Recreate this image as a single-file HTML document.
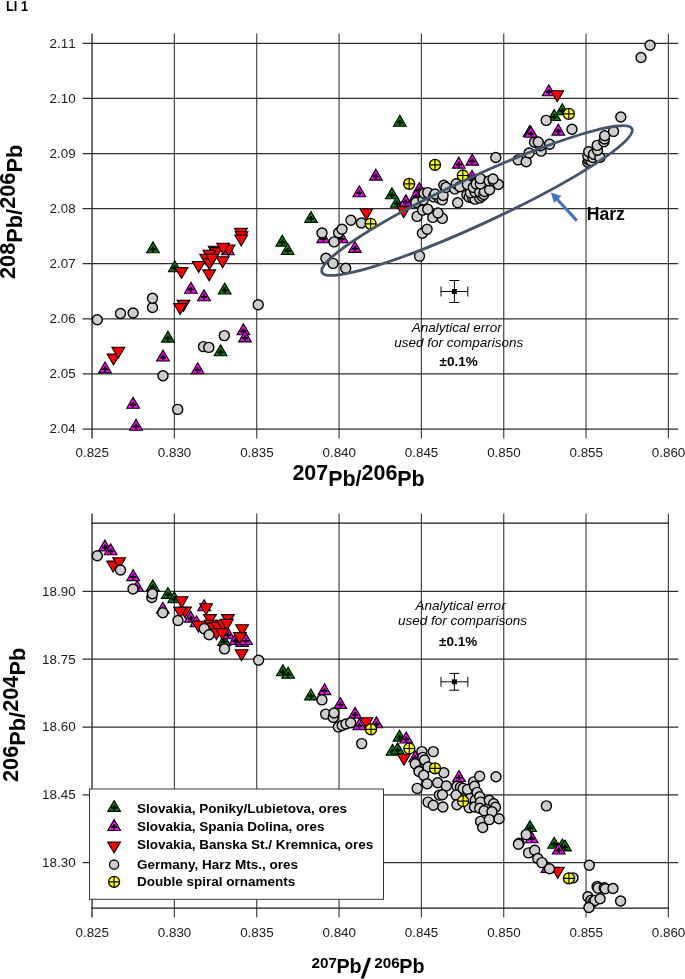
<!DOCTYPE html>
<html><head><meta charset="utf-8"><title>LI 1</title><style>
html,body{margin:0;padding:0;background:#fff}
body{width:685px;height:979px;position:relative;overflow:hidden;font-family:"Liberation Sans",sans-serif;color:#000}
div{position:absolute;white-space:nowrap}
#t{left:0;top:0;width:685px;height:979px;will-change:transform}
.tk{color:#1a1a1a;font-kerning:none}
.b{font-weight:bold}
.i{font-style:italic}
.xt1{font-weight:bold;line-height:30px;height:30px}
.u{position:relative;top:-4px}
.d{position:relative;top:2.6px}
.yt{font-weight:bold;line-height:30px;height:30px;transform-origin:0 0;transform:rotate(-90deg)}
</style></head><body>
<svg width="685" height="979" viewBox="0 0 685 979" style="position:absolute;left:0;top:0">
<defs>
<g id="g"><polygon points="0,-6.2 6.4,4.7 -6.4,4.7" fill="#008a00" stroke="#000" stroke-width="1.1"/><path d="M-2.9,1.1H2.9M0,-1.7V3.8" stroke="#000" stroke-width="2" fill="none"/></g>
<g id="m"><polygon points="0,-6.2 6.4,4.7 -6.4,4.7" fill="#ff00ff" stroke="#000" stroke-width="1.1"/><path d="M-2.9,1.1H2.9M0,-1.7V3.8" stroke="#000" stroke-width="2" fill="none"/></g>
<g id="r"><polygon points="-6.4,-4.7 6.4,-4.7 0,6.2" fill="#ff0000" stroke="#000" stroke-width="1.1"/></g>
<g id="c"><circle r="5" fill="#cecece" stroke="#000" stroke-width="1.4"/></g>
<g id="y"><circle r="5.5" fill="#ffff00" stroke="#000" stroke-width="1.3"/><path d="M-5.5,0H5.5M0,-5.5V5.5" stroke="#000" stroke-width="1.2" fill="none"/></g>
</defs>
<path d="M174.38,33.6V438.4M256.72,33.6V438.4M339.06,33.6V438.4M421.39,33.6V438.4M503.72,33.6V438.4M586.06,33.6V438.4M668.39,33.6V438.4" stroke="#474747" stroke-width="1.2" fill="none"/>
<path d="M92.05,33.6V438.4" stroke="#474747" stroke-width="1.55" fill="none"/>
<path d="M82.6,43.30H678.3M82.6,98.40H678.3M82.6,153.50H678.3M82.6,208.60H678.3M82.6,263.70H678.3M82.6,318.80H678.3M82.6,373.90H678.3M82.6,429.00H678.3" stroke="#2e2e2e" stroke-width="1.25" fill="none"/>
<path d="M174.38,513.5V917.4M256.72,513.5V917.4M339.06,513.5V917.4M421.39,513.5V917.4M503.72,513.5V917.4M586.06,513.5V917.4M668.39,513.5V917.4" stroke="#474747" stroke-width="1.2" fill="none"/>
<path d="M92.05,513.5V917.4" stroke="#474747" stroke-width="1.55" fill="none"/>
<path d="M82.6,591.40H678.3M82.6,659.20H678.3M82.6,727.00H678.3M82.6,794.80H678.3M82.6,862.60H678.3" stroke="#2e2e2e" stroke-width="1.25" fill="none"/>
<path d="M91.45,523.1H669.09M91.45,908.1H669.09" stroke="#161616" stroke-width="1.45" fill="none"/>
<g id="p1"><use href="#g" x="153.0" y="248.1"/>
<use href="#g" x="174.8" y="267.0"/>
<use href="#g" x="224.7" y="289.3"/>
<use href="#g" x="168.0" y="337.4"/>
<use href="#g" x="220.6" y="351.1"/>
<use href="#g" x="399.8" y="121.5"/>
<use href="#g" x="311.0" y="217.7"/>
<use href="#g" x="282.3" y="241.4"/>
<use href="#g" x="287.6" y="249.8"/>
<use href="#g" x="391.9" y="194.1"/>
<use href="#g" x="396.9" y="202.5"/>
<use href="#g" x="562.3" y="109.9"/>
<use href="#g" x="554.2" y="115.8"/>
<use href="#g" x="529.7" y="131.8"/>
<use href="#m" x="190.9" y="288.5"/>
<use href="#m" x="204.0" y="296.0"/>
<use href="#m" x="243.4" y="330.1"/>
<use href="#m" x="245.0" y="337.2"/>
<use href="#m" x="105.0" y="368.2"/>
<use href="#m" x="163.0" y="356.3"/>
<use href="#m" x="197.7" y="369.0"/>
<use href="#m" x="133.1" y="403.6"/>
<use href="#m" x="136.0" y="425.5"/>
<use href="#m" x="227.8" y="250.1"/>
<use href="#m" x="375.9" y="175.4"/>
<use href="#m" x="359.3" y="192.0"/>
<use href="#m" x="406.1" y="201.2"/>
<use href="#m" x="419.3" y="188.8"/>
<use href="#m" x="415.9" y="195.7"/>
<use href="#m" x="323.3" y="238.0"/>
<use href="#m" x="341.7" y="238.0"/>
<use href="#m" x="354.9" y="247.7"/>
<use href="#m" x="405.8" y="201.3"/>
<use href="#m" x="458.8" y="163.4"/>
<use href="#m" x="472.3" y="160.4"/>
<use href="#m" x="472.0" y="176.5"/>
<use href="#m" x="548.8" y="91.0"/>
<use href="#m" x="558.3" y="130.4"/>
<use href="#m" x="530.9" y="132.6"/>
<use href="#r" x="113.5" y="358.8"/>
<use href="#r" x="118.3" y="352.0"/>
<use href="#r" x="181.5" y="272.3"/>
<use href="#r" x="183.5" y="305.1"/>
<use href="#r" x="180.1" y="308.3"/>
<use href="#r" x="198.7" y="266.2"/>
<use href="#r" x="209.2" y="274.6"/>
<use href="#r" x="240.9" y="232.9"/>
<use href="#r" x="241.6" y="236.5"/>
<use href="#r" x="241.2" y="239.8"/>
<use href="#r" x="228.5" y="249.7"/>
<use href="#r" x="214.7" y="251.0"/>
<use href="#r" x="216.0" y="252.3"/>
<use href="#r" x="223.2" y="248.0"/>
<use href="#r" x="209.4" y="254.9"/>
<use href="#r" x="206.1" y="258.9"/>
<use href="#r" x="209.4" y="263.5"/>
<use href="#r" x="212.0" y="258.9"/>
<use href="#r" x="222.6" y="261.5"/>
<use href="#r" x="366.4" y="213.5"/>
<use href="#r" x="403.7" y="211.5"/>
<use href="#r" x="557.2" y="95.5"/>
<use href="#c" x="177.7" y="409.4"/>
<use href="#c" x="97.3" y="319.8"/>
<use href="#c" x="163.0" y="375.8"/>
<use href="#c" x="120.5" y="313.5"/>
<use href="#c" x="133.1" y="313.0"/>
<use href="#c" x="152.5" y="307.5"/>
<use href="#c" x="152.5" y="298.3"/>
<use href="#c" x="203.5" y="346.6"/>
<use href="#c" x="208.8" y="347.4"/>
<use href="#c" x="224.3" y="335.6"/>
<use href="#c" x="258.2" y="304.8"/>
<use href="#c" x="325.9" y="258.2"/>
<use href="#c" x="333.0" y="263.4"/>
<use href="#c" x="345.7" y="268.2"/>
<use href="#c" x="322.0" y="233.0"/>
<use href="#c" x="334.1" y="241.9"/>
<use href="#c" x="338.6" y="232.7"/>
<use href="#c" x="342.0" y="229.3"/>
<use href="#c" x="350.9" y="220.3"/>
<use href="#c" x="361.4" y="223.0"/>
<use href="#c" x="419.5" y="256.1"/>
<use href="#c" x="422.4" y="233.2"/>
<use href="#c" x="427.1" y="229.3"/>
<use href="#c" x="417.1" y="216.4"/>
<use href="#c" x="422.6" y="210.1"/>
<use href="#c" x="415.8" y="202.5"/>
<use href="#c" x="432.8" y="217.4"/>
<use href="#c" x="427.7" y="209.3"/>
<use href="#c" x="423.2" y="199.9"/>
<use href="#c" x="442.3" y="218.4"/>
<use href="#c" x="438.0" y="213.0"/>
<use href="#c" x="424.1" y="193.3"/>
<use href="#c" x="427.7" y="192.6"/>
<use href="#c" x="433.6" y="196.9"/>
<use href="#c" x="439.4" y="198.4"/>
<use href="#c" x="435.0" y="194.0"/>
<use href="#c" x="442.3" y="199.9"/>
<use href="#c" x="443.1" y="195.5"/>
<use href="#c" x="457.7" y="202.8"/>
<use href="#c" x="443.8" y="185.3"/>
<use href="#c" x="446.0" y="187.4"/>
<use href="#c" x="454.7" y="188.9"/>
<use href="#c" x="466.9" y="195.0"/>
<use href="#c" x="469.2" y="197.3"/>
<use href="#c" x="456.2" y="183.8"/>
<use href="#c" x="459.9" y="186.7"/>
<use href="#c" x="472.7" y="197.9"/>
<use href="#c" x="475.0" y="199.1"/>
<use href="#c" x="470.4" y="192.6"/>
<use href="#c" x="479.7" y="197.9"/>
<use href="#c" x="467.4" y="184.5"/>
<use href="#c" x="475.0" y="192.0"/>
<use href="#c" x="473.3" y="187.4"/>
<use href="#c" x="482.0" y="196.1"/>
<use href="#c" x="479.7" y="192.0"/>
<use href="#c" x="483.8" y="194.4"/>
<use href="#c" x="476.2" y="183.9"/>
<use href="#c" x="484.4" y="191.5"/>
<use href="#c" x="480.3" y="183.9"/>
<use href="#c" x="489.6" y="189.7"/>
<use href="#c" x="480.3" y="178.6"/>
<use href="#c" x="489.1" y="180.9"/>
<use href="#c" x="493.7" y="181.2"/>
<use href="#c" x="498.4" y="184.5"/>
<use href="#c" x="493.0" y="179.0"/>
<use href="#c" x="495.8" y="157.5"/>
<use href="#c" x="518.2" y="159.9"/>
<use href="#c" x="526.2" y="161.8"/>
<use href="#c" x="529.1" y="153.0"/>
<use href="#c" x="541.1" y="151.1"/>
<use href="#c" x="534.5" y="142.3"/>
<use href="#c" x="540.4" y="145.7"/>
<use href="#c" x="538.2" y="142.0"/>
<use href="#c" x="549.6" y="144.2"/>
<use href="#c" x="587.8" y="162.3"/>
<use href="#c" x="546.2" y="120.4"/>
<use href="#c" x="588.7" y="159.9"/>
<use href="#c" x="591.0" y="160.7"/>
<use href="#c" x="587.8" y="155.8"/>
<use href="#c" x="592.7" y="157.4"/>
<use href="#c" x="588.7" y="151.8"/>
<use href="#c" x="593.5" y="154.2"/>
<use href="#c" x="599.9" y="157.4"/>
<use href="#c" x="572.0" y="129.3"/>
<use href="#c" x="597.5" y="150.2"/>
<use href="#c" x="597.2" y="145.4"/>
<use href="#c" x="603.9" y="141.7"/>
<use href="#c" x="604.4" y="139.0"/>
<use href="#c" x="604.7" y="135.8"/>
<use href="#c" x="613.5" y="131.4"/>
<use href="#c" x="620.8" y="117.0"/>
<use href="#c" x="641.0" y="57.5"/>
<use href="#c" x="650.0" y="45.2"/>
<use href="#y" x="370.6" y="223.8"/>
<use href="#y" x="409.2" y="183.9"/>
<use href="#y" x="435.0" y="164.9"/>
<use href="#y" x="462.8" y="175.5"/>
<use href="#y" x="568.8" y="113.9"/></g>
<ellipse cx="477" cy="200.55" rx="170.8" ry="23.5" transform="rotate(-24.84 477 200.55)" fill="none" stroke="#44546a" stroke-width="2.8"/>
<path d="M576.8,220.6L556.5,198.5" stroke="#4472c4" stroke-width="3.2" fill="none"/><polygon points="550.9,192.4 561.5,196.0 554.0,203.0" fill="#4472c4"/>
<path d="M441.0,291.5H467.79999999999995M454.4,280.5V302.5M449.4,280.5H459.4M449.4,302.5H459.4M441.0,286.5V296.5M467.79999999999995,286.5V296.5" stroke="#000" stroke-width="1" fill="none"/><rect x="451.9" y="289.0" width="5" height="5" fill="#000"/>
<path d="M441.0,681.8H467.79999999999995M454.4,673.4V690.1999999999999M449.4,673.4H459.4M449.4,690.1999999999999H459.4M441.0,676.8V686.8M467.79999999999995,676.8V686.8" stroke="#000" stroke-width="1" fill="none"/><rect x="451.9" y="679.3" width="5" height="5" fill="#000"/>
<g id="p2"><use href="#g" x="152.8" y="586.1"/>
<use href="#g" x="167.9" y="593.7"/>
<use href="#g" x="174.2" y="598.1"/>
<use href="#g" x="224.1" y="640.7"/>
<use href="#g" x="282.9" y="671.1"/>
<use href="#g" x="288.1" y="673.6"/>
<use href="#g" x="310.9" y="695.2"/>
<use href="#g" x="399.5" y="736.4"/>
<use href="#g" x="392.5" y="750.6"/>
<use href="#g" x="397.6" y="749.1"/>
<use href="#g" x="530.0" y="826.8"/>
<use href="#g" x="554.2" y="843.5"/>
<use href="#g" x="562.3" y="845.2"/>
<use href="#g" x="565.0" y="846.2"/>
<use href="#m" x="104.9" y="546.3"/>
<use href="#m" x="110.6" y="550.1"/>
<use href="#m" x="133.2" y="575.9"/>
<use href="#m" x="137.2" y="586.7"/>
<use href="#m" x="162.8" y="608.5"/>
<use href="#m" x="204.2" y="606.0"/>
<use href="#m" x="190.7" y="617.4"/>
<use href="#m" x="196.5" y="622.0"/>
<use href="#m" x="227.9" y="634.1"/>
<use href="#m" x="235.5" y="639.8"/>
<use href="#m" x="242.1" y="641.7"/>
<use href="#m" x="245.9" y="639.8"/>
<use href="#m" x="324.5" y="689.9"/>
<use href="#m" x="340.3" y="703.7"/>
<use href="#m" x="355.1" y="713.6"/>
<use href="#m" x="359.3" y="725.0"/>
<use href="#m" x="376.4" y="723.1"/>
<use href="#m" x="406.2" y="738.3"/>
<use href="#m" x="415.3" y="757.0"/>
<use href="#m" x="459.0" y="776.7"/>
<use href="#m" x="531.7" y="838.0"/>
<use href="#m" x="558.7" y="849.3"/>
<use href="#m" x="547.4" y="867.7"/>
<use href="#r" x="113.1" y="565.8"/>
<use href="#r" x="119.2" y="562.4"/>
<use href="#r" x="181.6" y="601.5"/>
<use href="#r" x="185.0" y="611.7"/>
<use href="#r" x="180.2" y="612.0"/>
<use href="#r" x="206.1" y="608.5"/>
<use href="#r" x="209.9" y="619.3"/>
<use href="#r" x="227.9" y="619.3"/>
<use href="#r" x="198.5" y="625.9"/>
<use href="#r" x="210.8" y="625.0"/>
<use href="#r" x="212.7" y="627.8"/>
<use href="#r" x="217.4" y="626.9"/>
<use href="#r" x="223.1" y="625.0"/>
<use href="#r" x="226.9" y="624.1"/>
<use href="#r" x="216.5" y="633.5"/>
<use href="#r" x="222.2" y="633.5"/>
<use href="#r" x="242.1" y="629.4"/>
<use href="#r" x="239.8" y="637.3"/>
<use href="#r" x="241.6" y="654.4"/>
<use href="#r" x="366.5" y="722.5"/>
<use href="#r" x="403.9" y="759.0"/>
<use href="#r" x="557.8" y="872.1"/>
<use href="#c" x="97.3" y="555.7"/>
<use href="#c" x="120.5" y="570.0"/>
<use href="#c" x="133.0" y="589.0"/>
<use href="#c" x="151.8" y="597.5"/>
<use href="#c" x="152.4" y="593.7"/>
<use href="#c" x="162.8" y="612.7"/>
<use href="#c" x="178.0" y="620.5"/>
<use href="#c" x="204.2" y="628.6"/>
<use href="#c" x="209.1" y="634.8"/>
<use href="#c" x="224.5" y="648.9"/>
<use href="#c" x="258.6" y="660.3"/>
<use href="#c" x="321.9" y="699.9"/>
<use href="#c" x="325.7" y="714.1"/>
<use href="#c" x="333.3" y="717.4"/>
<use href="#c" x="334.0" y="713.0"/>
<use href="#c" x="338.4" y="726.9"/>
<use href="#c" x="342.2" y="725.5"/>
<use href="#c" x="346.0" y="724.0"/>
<use href="#c" x="350.7" y="722.7"/>
<use href="#c" x="361.7" y="743.6"/>
<use href="#c" x="421.9" y="751.6"/>
<use href="#c" x="416.1" y="762.7"/>
<use href="#c" x="415.3" y="763.9"/>
<use href="#c" x="422.8" y="757.4"/>
<use href="#c" x="424.5" y="760.0"/>
<use href="#c" x="433.3" y="751.6"/>
<use href="#c" x="419.3" y="770.9"/>
<use href="#c" x="419.0" y="771.5"/>
<use href="#c" x="428.0" y="767.0"/>
<use href="#c" x="423.7" y="775.3"/>
<use href="#c" x="417.2" y="788.4"/>
<use href="#c" x="427.2" y="783.7"/>
<use href="#c" x="443.8" y="772.7"/>
<use href="#c" x="437.7" y="782.8"/>
<use href="#c" x="428.0" y="802.1"/>
<use href="#c" x="446.4" y="786.0"/>
<use href="#c" x="439.4" y="795.1"/>
<use href="#c" x="442.4" y="794.7"/>
<use href="#c" x="433.3" y="805.2"/>
<use href="#c" x="456.9" y="786.3"/>
<use href="#c" x="460.4" y="787.2"/>
<use href="#c" x="442.9" y="807.0"/>
<use href="#c" x="456.1" y="795.1"/>
<use href="#c" x="463.1" y="788.4"/>
<use href="#c" x="473.6" y="781.9"/>
<use href="#c" x="479.7" y="776.3"/>
<use href="#c" x="467.5" y="789.5"/>
<use href="#c" x="474.5" y="786.3"/>
<use href="#c" x="456.9" y="804.7"/>
<use href="#c" x="470.1" y="798.6"/>
<use href="#c" x="477.1" y="792.4"/>
<use href="#c" x="496.0" y="776.7"/>
<use href="#c" x="475.3" y="800.3"/>
<use href="#c" x="479.7" y="796.8"/>
<use href="#c" x="469.2" y="807.7"/>
<use href="#c" x="474.5" y="807.0"/>
<use href="#c" x="480.6" y="802.1"/>
<use href="#c" x="479.7" y="808.2"/>
<use href="#c" x="489.3" y="800.3"/>
<use href="#c" x="484.1" y="810.8"/>
<use href="#c" x="493.7" y="803.8"/>
<use href="#c" x="480.6" y="821.4"/>
<use href="#c" x="495.5" y="807.3"/>
<use href="#c" x="492.0" y="811.7"/>
<use href="#c" x="489.3" y="819.6"/>
<use href="#c" x="482.7" y="827.5"/>
<use href="#c" x="499.0" y="818.7"/>
<use href="#c" x="546.4" y="805.9"/>
<use href="#c" x="526.2" y="834.6"/>
<use href="#c" x="519.1" y="843.3"/>
<use href="#c" x="518.4" y="844.2"/>
<use href="#c" x="528.6" y="852.9"/>
<use href="#c" x="534.7" y="850.3"/>
<use href="#c" x="537.8" y="858.5"/>
<use href="#c" x="541.9" y="862.6"/>
<use href="#c" x="549.5" y="868.7"/>
<use href="#c" x="573.0" y="877.9"/>
<use href="#c" x="589.3" y="865.2"/>
<use href="#c" x="597.1" y="886.5"/>
<use href="#c" x="587.9" y="896.7"/>
<use href="#c" x="598.1" y="888.1"/>
<use href="#c" x="590.9" y="900.4"/>
<use href="#c" x="604.2" y="887.7"/>
<use href="#c" x="605.3" y="888.7"/>
<use href="#c" x="593.0" y="902.0"/>
<use href="#c" x="595.0" y="900.4"/>
<use href="#c" x="588.9" y="907.5"/>
<use href="#c" x="600.1" y="898.7"/>
<use href="#c" x="613.0" y="888.5"/>
<use href="#c" x="620.6" y="901.0"/>
<use href="#y" x="371.0" y="729.3"/>
<use href="#y" x="409.3" y="748.5"/>
<use href="#y" x="435.0" y="768.4"/>
<use href="#y" x="463.1" y="801.2"/>
<use href="#y" x="568.9" y="878.3"/></g>
<rect x="89.5" y="789" width="294" height="110.3" fill="#fff" stroke="#3a3a3a" stroke-width="1"/>
<use href="#g" x="114.1" y="806.7"/><use href="#m" x="114.1" y="825.8"/><use href="#r" x="114.1" y="846.8"/><circle cx="114.1" cy="864.6" r="4.6" fill="#cecece" stroke="#000" stroke-width="1.3"/><use href="#y" x="114.1" y="881.8"/>
</svg>
<div id="t">
<div class="tk" style="left:-224.40px;width:300px;text-align:right;top:35.72px;font-size:13.4px;line-height:16.08px;">2.11</div>
<div class="tk" style="left:-224.40px;width:300px;text-align:right;top:90.82px;font-size:13.4px;line-height:16.08px;">2.10</div>
<div class="tk" style="left:-224.40px;width:300px;text-align:right;top:145.92px;font-size:13.4px;line-height:16.08px;">2.09</div>
<div class="tk" style="left:-224.40px;width:300px;text-align:right;top:201.02px;font-size:13.4px;line-height:16.08px;">2.08</div>
<div class="tk" style="left:-224.40px;width:300px;text-align:right;top:256.12px;font-size:13.4px;line-height:16.08px;">2.07</div>
<div class="tk" style="left:-224.40px;width:300px;text-align:right;top:311.22px;font-size:13.4px;line-height:16.08px;">2.06</div>
<div class="tk" style="left:-224.40px;width:300px;text-align:right;top:366.32px;font-size:13.4px;line-height:16.08px;">2.05</div>
<div class="tk" style="left:-224.40px;width:300px;text-align:right;top:421.42px;font-size:13.4px;line-height:16.08px;">2.04</div>
<div class="tk" style="left:-224.40px;width:300px;text-align:right;top:583.82px;font-size:13.4px;line-height:16.08px;">18.90</div>
<div class="tk" style="left:-224.40px;width:300px;text-align:right;top:651.62px;font-size:13.4px;line-height:16.08px;">18.75</div>
<div class="tk" style="left:-224.40px;width:300px;text-align:right;top:719.42px;font-size:13.4px;line-height:16.08px;">18.60</div>
<div class="tk" style="left:-224.40px;width:300px;text-align:right;top:787.22px;font-size:13.4px;line-height:16.08px;">18.45</div>
<div class="tk" style="left:-224.40px;width:300px;text-align:right;top:855.02px;font-size:13.4px;line-height:16.08px;">18.30</div>
<div class="tk" style="left:-57.75px;width:300px;text-align:center;top:444.82px;font-size:13.4px;line-height:16.08px;">0.825</div>
<div class="tk" style="left:-57.75px;width:300px;text-align:center;top:924.62px;font-size:13.4px;line-height:16.08px;">0.825</div>
<div class="tk" style="left:24.58px;width:300px;text-align:center;top:444.82px;font-size:13.4px;line-height:16.08px;">0.830</div>
<div class="tk" style="left:24.58px;width:300px;text-align:center;top:924.62px;font-size:13.4px;line-height:16.08px;">0.830</div>
<div class="tk" style="left:106.92px;width:300px;text-align:center;top:444.82px;font-size:13.4px;line-height:16.08px;">0.835</div>
<div class="tk" style="left:106.92px;width:300px;text-align:center;top:924.62px;font-size:13.4px;line-height:16.08px;">0.835</div>
<div class="tk" style="left:189.25px;width:300px;text-align:center;top:444.82px;font-size:13.4px;line-height:16.08px;">0.840</div>
<div class="tk" style="left:189.25px;width:300px;text-align:center;top:924.62px;font-size:13.4px;line-height:16.08px;">0.840</div>
<div class="tk" style="left:271.59px;width:300px;text-align:center;top:444.82px;font-size:13.4px;line-height:16.08px;">0.845</div>
<div class="tk" style="left:271.59px;width:300px;text-align:center;top:924.62px;font-size:13.4px;line-height:16.08px;">0.845</div>
<div class="tk" style="left:353.92px;width:300px;text-align:center;top:444.82px;font-size:13.4px;line-height:16.08px;">0.850</div>
<div class="tk" style="left:353.92px;width:300px;text-align:center;top:924.62px;font-size:13.4px;line-height:16.08px;">0.850</div>
<div class="tk" style="left:436.26px;width:300px;text-align:center;top:444.82px;font-size:13.4px;line-height:16.08px;">0.855</div>
<div class="tk" style="left:436.26px;width:300px;text-align:center;top:924.62px;font-size:13.4px;line-height:16.08px;">0.855</div>
<div class="tk" style="left:518.59px;width:300px;text-align:center;top:444.82px;font-size:13.4px;line-height:16.08px;">0.860</div>
<div class="tk" style="left:518.59px;width:300px;text-align:center;top:924.62px;font-size:13.4px;line-height:16.08px;">0.860</div>
<div class="b" style="left:5.80px;top:-1.83px;font-size:14.4px;line-height:17.28px;transform-origin:0 0;transform:scaleX(0.89);">LI 1</div>
<div class="xt1" style="left:292.4px;top:461.5px;font-size:21.45px"><span class="u">207</span><span class="d">Pb/</span><span class="u">206</span><span class="d">Pb</span></div>
<div class="yt" style="left:-3.5px;top:279.1px;font-size:21.75px"><span class="u">208</span><span class="d">Pb/</span><span class="u">206</span><span class="d">Pb</span></div>
<div class="yt" style="left:-0.5px;top:781.6px;font-size:21.75px"><span class="u">206</span><span class="d">Pb/</span><span class="u">204</span><span class="d">Pb</span></div>
<div class="b" style="left:311.60px;top:953.82px;font-size:15.3px;line-height:18.36px;">207</div>
<div class="b" style="left:336.40px;top:955.06px;font-size:19.8px;line-height:23.76px;">Pb</div>
<div class="b" style="left:362.00px;top:951.90px;font-size:28px;line-height:33.6px;transform-origin:50% 50%;transform:skewX(-9deg);">/</div>
<div class="b" style="left:374.30px;top:953.82px;font-size:15.3px;line-height:18.36px;">206</div>
<div class="b" style="left:399.20px;top:955.06px;font-size:19.8px;line-height:23.76px;">Pb</div>
<div class="b" style="left:586.70px;top:204.34px;font-size:17.6px;line-height:21.12px;">Harz</div>
<div class="i" style="left:308.70px;width:300px;text-align:center;top:319.92px;font-size:13.5px;line-height:16.2px;">Analytical error&nbsp;</div>
<div class="i" style="left:308.70px;width:300px;text-align:center;top:335.32px;font-size:13.5px;line-height:16.2px;">used for comparisons</div>
<div class="b" style="left:308.70px;width:300px;text-align:center;top:353.92px;font-size:13.5px;line-height:16.2px;">&plusmn;0.1%</div>
<div class="i" style="left:312.50px;width:300px;text-align:center;top:597.52px;font-size:13.5px;line-height:16.2px;">Analytical error&nbsp;</div>
<div class="i" style="left:312.50px;width:300px;text-align:center;top:613.12px;font-size:13.5px;line-height:16.2px;">used for comparisons</div>
<div class="b" style="left:308.10px;width:300px;text-align:center;top:633.72px;font-size:13.5px;line-height:16.2px;">&plusmn;0.1%</div>
<div class="b" style="left:137.00px;top:800.52px;font-size:13.5px;line-height:16.2px;">Slovakia, Poniky/Lubietova, ores</div>
<div class="b" style="left:137.00px;top:819.12px;font-size:13.5px;line-height:16.2px;">Slovakia, Spania Dolina, ores</div>
<div class="b" style="left:137.00px;top:837.42px;font-size:13.5px;line-height:16.2px;">Slovakia, Banska St./ Kremnica, ores</div>
<div class="b" style="left:137.00px;top:856.62px;font-size:13.5px;line-height:16.2px;">Germany, Harz Mts., ores</div>
<div class="b" style="left:137.00px;top:874.42px;font-size:13.5px;line-height:16.2px;">Double spiral ornaments</div>
</div>
</body></html>
